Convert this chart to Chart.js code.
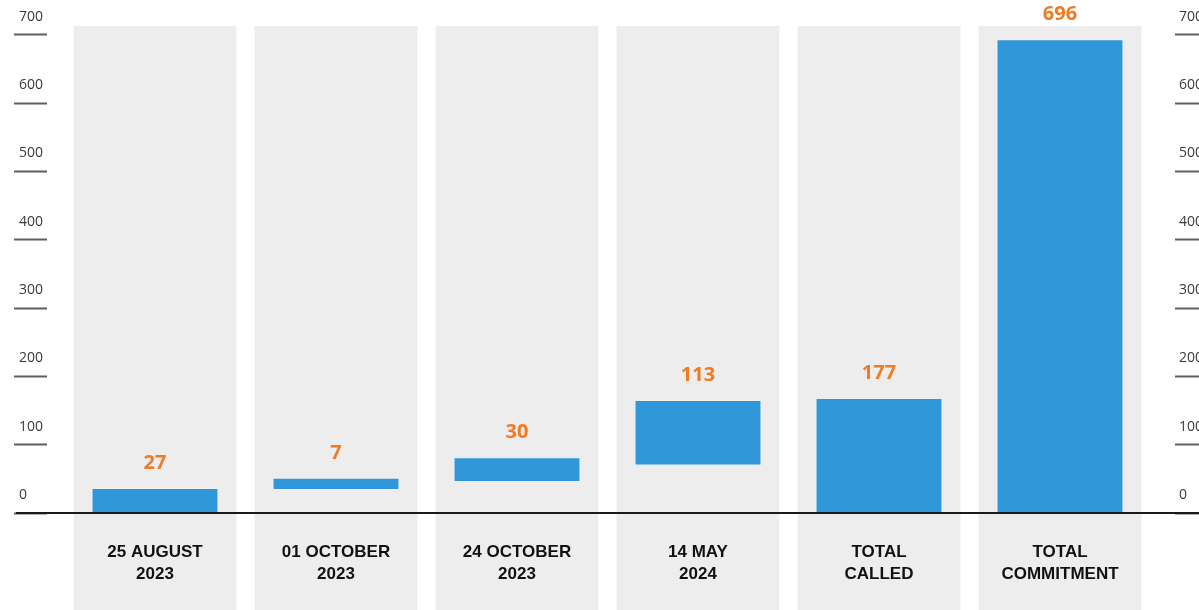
<!DOCTYPE html>
<html>
<head>
<meta charset="utf-8">
<script src="https://cdn.jsdelivr.net/npm/chart.js@4.4.1/dist/chart.umd.min.js"></script>
<style>
    html, body { margin: 0; padding: 0; background: #fff; }
    #wrap { width: 1199px; height: 610px; }
</style>
</head>
<body>
<div id="wrap"><canvas id="chart" width="1199" height="610"></canvas></div>
<script>
// Data
const categories = [
    ['25 AUGUST', '2023'],
    ['01 OCTOBER', '2023'],
    ['24 OCTOBER', '2023'],
    ['14 MAY', '2024'],
    ['TOTAL', 'CALLED'],
    ['TOTAL', 'COMMITMENT']
];
const barStart = [0, 35, 47, 71, 0, 0];
const barEnd = [35, 50, 80, 164, 167, 692];
const valueLabels = ['27', '7', '30', '113', '177', '696'];
const yTicks = [0, 100, 200, 300, 400, 500, 600, 700];

const yMin = -142;
const yMax = 713;

const BLUE = '#3197db';
const ORANGE = '#f27a22';
const BAND = '#ededed';

// fixed width for an axis box, no extra layout padding
function fixWidth(w) {
    return function(scale) {
        scale.width = w;
        scale.paddingTop = 0;
        scale.paddingBottom = 0;
    };
}

// value labels above the blue bars
const valueLabelPlugin = {
    id: 'valueLabels',
    afterDatasetsDraw(chart) {
        const ctx = chart.ctx;
        const meta = chart.getDatasetMeta(0);
        ctx.save();
        ctx.font = "bold 20px 'Open Sans', sans-serif";
        ctx.fillStyle = ORANGE;
        ctx.textAlign = 'center';
        ctx.textBaseline = 'middle';
        meta.data.forEach((bar, i) => {
            ctx.fillText(valueLabels[i], bar.x, bar.y - 26);
        });
        ctx.restore();
    }
};

// black zero line running the whole width
const zeroLinePlugin = {
    id: 'zeroLine',
    afterDatasetsDraw(chart) {
        const ctx = chart.ctx;
        const y = Math.round(chart.scales.y.getPixelForValue(0));
        ctx.save();
        ctx.strokeStyle = '#1a1a1a';
        ctx.lineWidth = 2;
        ctx.beginPath();
        ctx.moveTo(16, y);
        ctx.lineTo(chart.width, y);
        ctx.stroke();
        ctx.restore();
    }
};

const tickAxis = {
    type: 'linear',
    min: yMin,
    max: yMax,
    afterBuildTicks: function(scale) {
        scale.ticks = yTicks.map(v => ({ value: v }));
    },
    border: { display: false },
    grid: {
        display: true,
        drawOnChartArea: false,
        drawTicks: true,
        tickColor: '#5f5f5f',
        tickWidth: 2
    },
    ticks: {
        color: '#3a3a3a',
        font: { family: "'Open Sans', sans-serif", size: 14 },
        labelOffset: -18,
        callback: v => String(v)
    }
};

const spacerAxis = {
    type: 'linear',
    display: true,
    grid: { display: false, drawTicks: false },
    border: { display: false },
    ticks: { display: false }
};

new Chart(document.getElementById('chart'), {
    type: 'bar',
    data: {
        labels: categories,
        datasets: [
            {
                label: 'Values',
                data: barStart.map((s, i) => [s, barEnd[i]]),
                backgroundColor: BLUE,
                barPercentage: 0.69,
                categoryPercentage: 1,
                grouped: false,
                order: 1
            },
            {
                label: 'Bands',
                data: categories.map(() => [yMin, yMax]),
                backgroundColor: BAND,
                barPercentage: 0.9,
                categoryPercentage: 1,
                grouped: false,
                order: 2
            }
        ]
    },
    options: {
        responsive: false,
        animation: false,
        layout: { padding: { left: 19, right: 0, top: 26, bottom: 0 } },
        plugins: {
            legend: { display: false },
            tooltip: { enabled: false }
        },
        scales: {
            x: {
                type: 'category',
                position: { y: 0 },
                grid: { display: false, drawTicks: false },
                border: { display: false },
                afterFit: function(scale) {
                    scale.height = 0;
                    scale.paddingLeft = 0;
                    scale.paddingRight = 0;
                },
                ticks: {
                    z: 1,
                    color: '#111',
                    font: { family: "'Liberation Sans', Arial, sans-serif", size: 17, weight: 'bold', lineHeight: 1.3 },
                    padding: 28,
                    maxRotation: 0,
                    autoSkip: false
                }
            },
            y: Object.assign({}, tickAxis, {
                position: 'left',
                weight: 2,
                grid: Object.assign({}, tickAxis.grid, { tickLength: 33 }),
                ticks: Object.assign({}, tickAxis.ticks, { crossAlign: 'far' }),
                afterFit: fixWidth(28)
            }),
            yPadL: Object.assign({}, spacerAxis, {
                position: 'left',
                weight: 1,
                afterFit: fixWidth(17.5)
            }),
            yR: Object.assign({}, tickAxis, {
                position: 'right',
                weight: 2,
                grid: Object.assign({}, tickAxis.grid, { tickLength: 30 }),
                ticks: Object.assign({}, tickAxis.ticks, { crossAlign: 'near', padding: -26 }),
                afterFit: fixWidth(24)
            }),
            yPadR: Object.assign({}, spacerAxis, {
                position: 'right',
                weight: 1,
                afterFit: fixWidth(24.5)
            })
        }
    },
    plugins: [valueLabelPlugin, zeroLinePlugin]
});
</script>
</body>
</html>
